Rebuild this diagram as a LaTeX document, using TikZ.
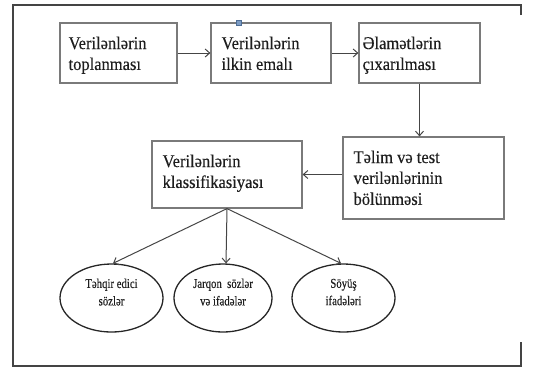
\documentclass[tikz,border=0pt]{standalone}
\usepackage{fontspec}
\setmainfont{Liberation Serif}
\newfontfamily\azfont[FakeStretch=0.92,FakeBold=0.3]{Liberation Serif}
\newfontfamily\ovfont[FakeStretch=0.8,FakeBold=0.3]{Liberation Serif}
\usetikzlibrary{arrows.meta,shapes.geometric}
\definecolor{framec}{HTML}{444444}
\definecolor{boxc}{HTML}{7A7A7A}
\definecolor{arrc}{HTML}{454545}
\definecolor{txtc}{HTML}{1E1E1E}
\definecolor{handlef}{HTML}{7C9CC4}
\definecolor{handled}{HTML}{4F6E96}
\begin{document}
\begin{tikzpicture}[x=1bp,y=-1bp,
  box/.style={draw=boxc, line width=1.2bp, inner sep=0pt, rectangle},
  txt/.style={anchor=north west, align=left, inner sep=0pt, text=txtc,
    font=\azfont\fontsize{18}{21}\selectfont},
  oval/.style={ellipse, draw=black!85, line width=1.3bp, inner sep=0pt,
    minimum height=68bp, align=center, text=txtc,
    font=\ovfont\fontsize{13.5}{17.5}\selectfont, text depth=12bp},
  arr/.style={draw=arrc, line width=1bp, -{Straight Barb[length=4.5bp,width=8bp]}},
  frameline/.style={draw=framec, line width=2bp}]
\useasboundingbox (0,0) rectangle (534,368);
% outer frame (right side mostly cropped)
\draw[frameline] (521,15) -- (521,5) -- (13,5) -- (13,366) -- (521,366) -- (521,342);
% boxes
\node[box, minimum width=117bp, minimum height=60bp] (b1) at (118.5,53) {};
\node[box, minimum width=120bp, minimum height=60bp] (b2) at (271,53) {};
\node[box, minimum width=121bp, minimum height=60bp] (b3) at (419.5,53) {};
\node[box, minimum width=161bp, minimum height=82bp] (b4) at (423.5,178) {};
\node[box, minimum width=150bp, minimum height=67bp] (b5) at (227,174.5) {};
% box texts
\node[txt] (t1) at ([xshift=9bp,yshift=-14bp]b1.north west) {Verilənlərin\\toplanması};
\node[txt] (t2) at ([xshift=11bp,yshift=-14bp]b2.north west) {Verilənlərin\\ilkin emalı};
\node[txt] (t3) at ([xshift=4bp,yshift=-14bp]b3.north west) {Əlamətlərin\\çıxarılması};
\node[txt] (t4) at ([xshift=11bp,yshift=-14bp]b4.north west) {Təlim və test\\verilənlərinin\\bölünməsi};
\node[txt] (t5) at ([xshift=11bp,yshift=-14bp]b5.north west) {Verilənlərin\\klassifikasiyası};
% selection handle
\node[draw=handled, fill=handlef, line width=0.5bp, minimum size=5bp, inner sep=0pt] (h) at (238.5,22.5) {};
% ellipses
\node[oval, minimum width=103bp] (e1) at (111.5,298) {Təhqir edici\\sözlər};
\node[oval, minimum width=98bp] (e2) at (223,298) {Jarqon\ \ sözlər\\və ifadələr};
\node[oval, minimum width=103bp] (e3) at (343.5,298) {Söyüş\\ifadələri};
% connectors
\draw[arr] (b1.east) -- (b2.west);
\draw[arr] (b2.east) -- (b3.west);
\draw[arr] (b3.south) -- (b3.south |- b4.north);
\draw[arr] (b5.east -| b4.west) -- (b5.east);
\draw[arr] (b5.south) -- ([xshift=1.5bp]e1.north);
\draw[arr] (b5.south) -- ([xshift=3bp]e2.north);
\draw[arr] (b5.south) -- ([xshift=-2.5bp]e3.north);
\end{tikzpicture}
\end{document}
